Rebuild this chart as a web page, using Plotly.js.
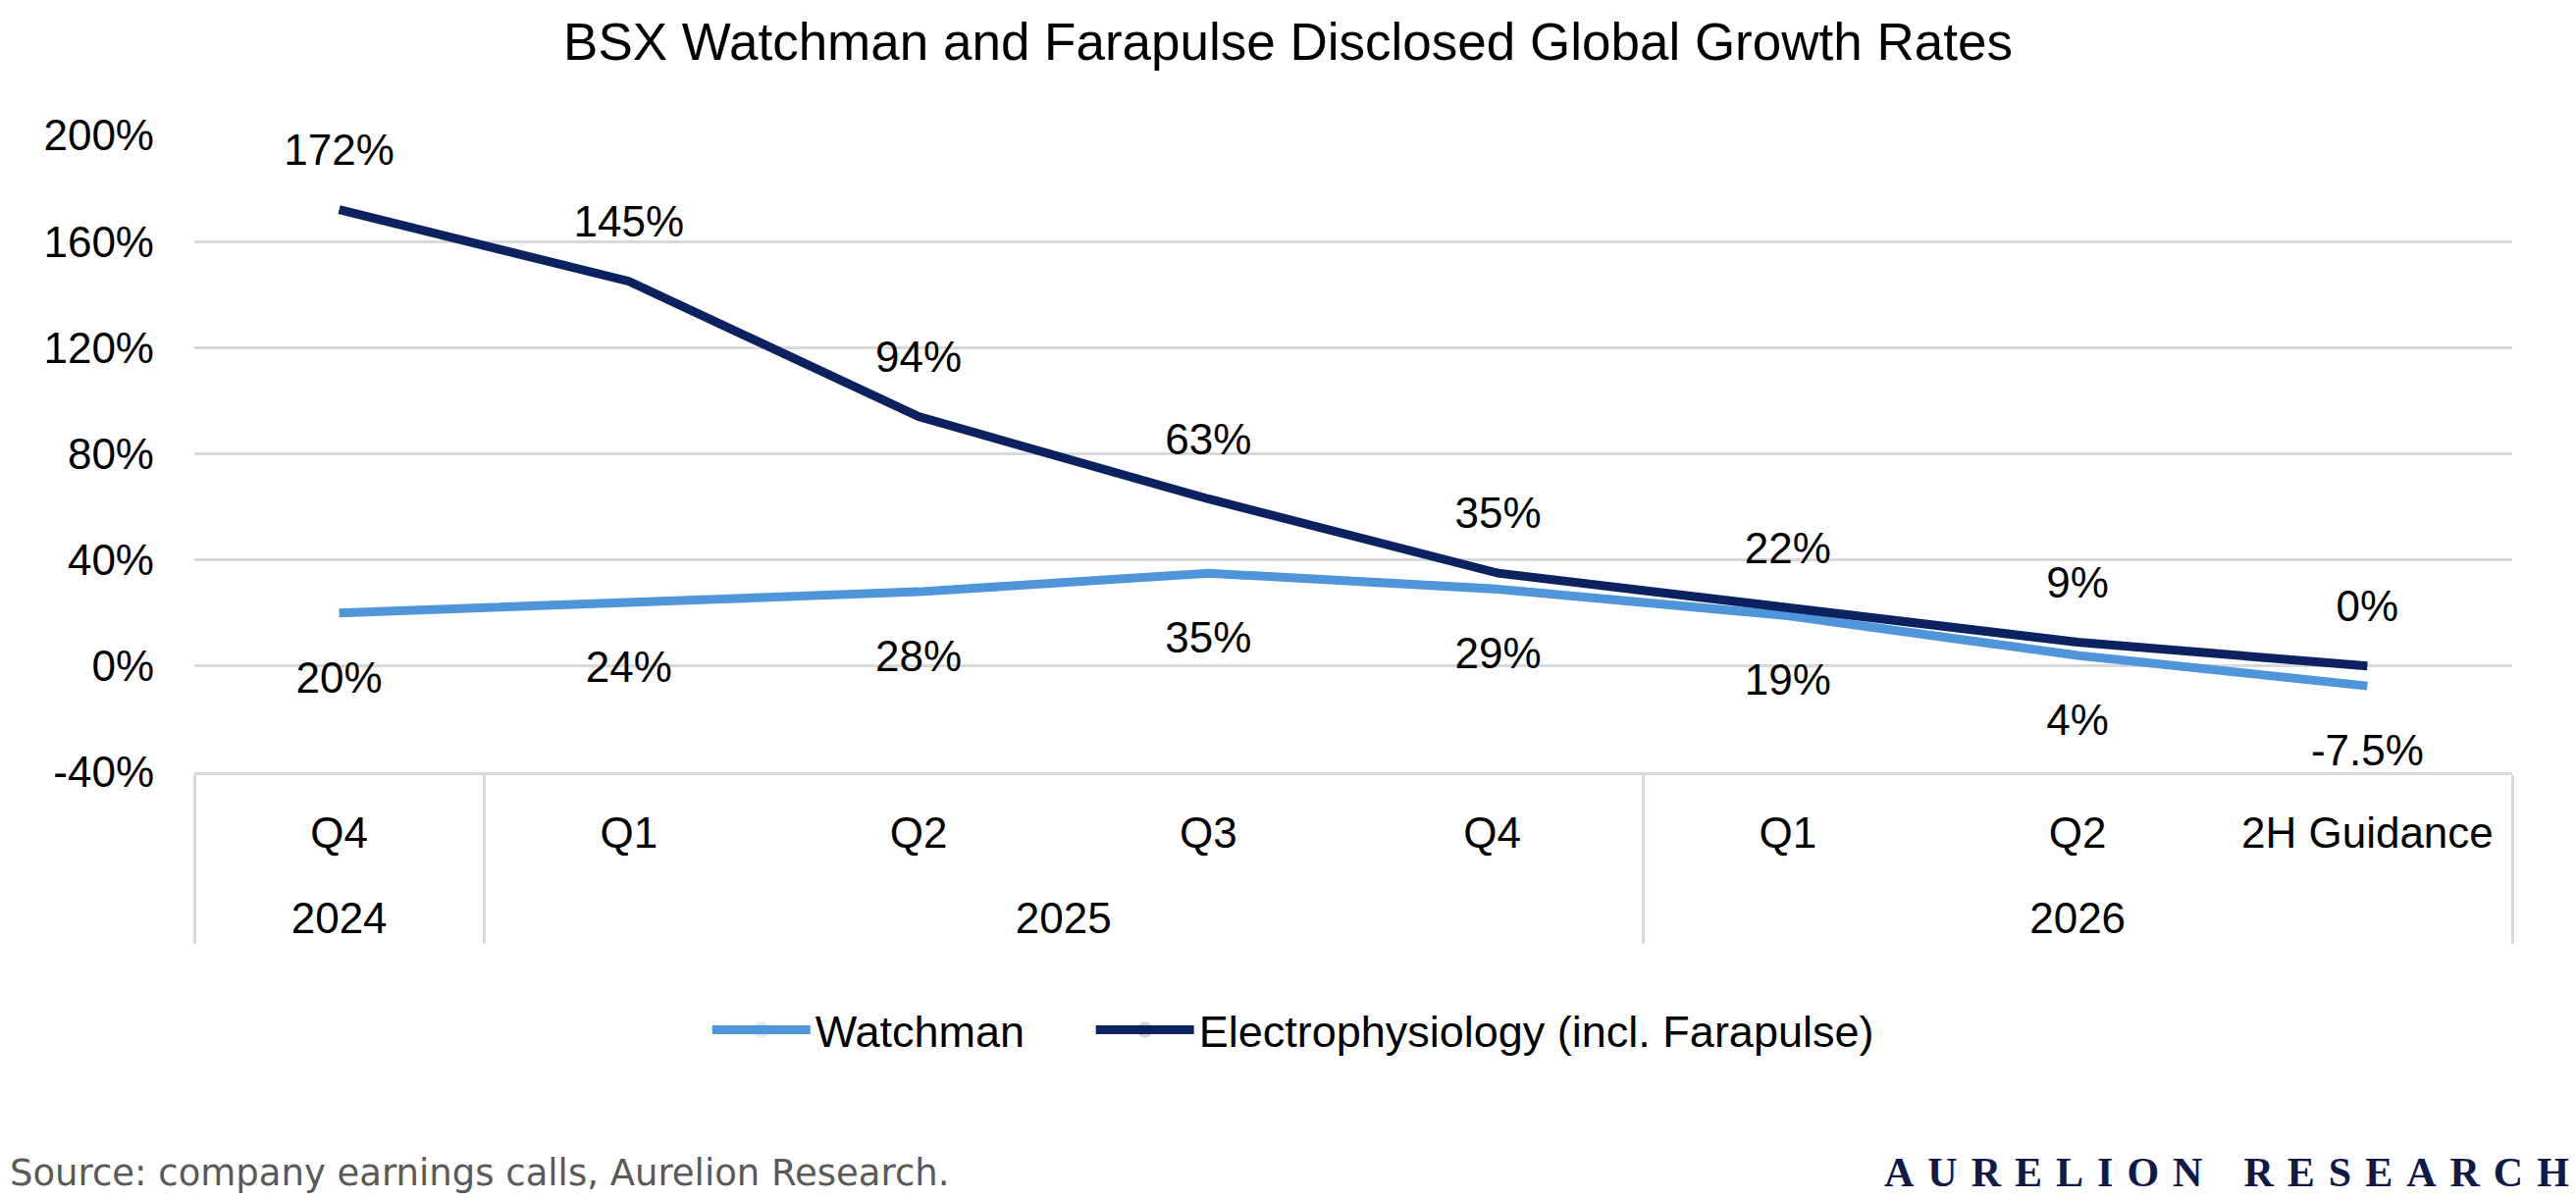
<!DOCTYPE html>
<html>
<head>
<meta charset="utf-8">
<script src="https://cdn.plot.ly/plotly-3.0.1.min.js"></script>
<style>
  html, body { margin: 0; padding: 0; background: #fff; }
  #chart { width: 2625px; height: 1222px; }
</style>
</head>
<body>
<div id="chart"></div>
<script>
// outer level of the x axis (years) and inner level (periods)
var years = ['2024', '2025', '2025', '2025', '2025', '2026', '2026', '2026'];
// the second Q4 carries a trailing space so plotly keeps it inside 2025 in order
var quarters = ['Q4', 'Q1', 'Q2', 'Q3', 'Q4 ', 'Q1', 'Q2', '2H Guidance'];

var watchman = [20, 24, 28, 35, 29, 19, 4, -7.5];
var electro = [172, 145, 94, 63, 35, 22, 9, 0];

var yTicks = [-40, 0, 40, 80, 120, 160, 200];

function pctLabel(v) {
    return v + '%';
}

function drawChart() {
    var LOC = document.getElementById('chart');
    var font = 'Liberation Sans, Arial, sans-serif';

    // blank second line: makes the inner label row taller so the year row sits lower
    var innerLabels = quarters.map(function(q) { return q + '<br>\u00a0'; });

    var trace1 = {
        x: [years, innerLabels],
        y: watchman,
        // trailing nbsp widen the gap to the next legend entry
        name: 'Watchman\u00a0\u00a0\u00a0\u00a0\u00a0',
        type: 'scatter',
        mode: 'lines+markers+text',
        line: {color: '#4F95D9', width: 9},
        marker: {size: 75, opacity: 0},
        text: watchman.map(pctLabel),
        textposition: 'bottom center',
        textfont: {family: font, size: 44, color: '#000'},
        cliponaxis: false,
        hoverinfo: 'skip'
    };

    var trace2 = {
        x: [years, innerLabels],
        y: electro,
        name: 'Electrophysiology (incl. Farapulse)',
        type: 'scatter',
        mode: 'lines+markers+text',
        line: {color: '#0C2260', width: 9},
        marker: {size: 54, opacity: 0},
        text: electro.map(pctLabel),
        textposition: 'top center',
        textfont: {family: font, size: 44, color: '#000'},
        cliponaxis: false,
        hoverinfo: 'skip'
    };

    var data = [trace1, trace2];

    var sp = '\u2004';
    var brand = 'AURELION'.split('').join(sp) + sp + sp + sp + 'RESEARCH'.split('').join(sp);

    var layout = {
        width: 2625,
        height: 1222,
        margin: {l: 198, r: 65, t: 138, b: 435, autoexpand: false},
        paper_bgcolor: '#fff',
        plot_bgcolor: '#fff',
        font: {family: font, size: 44, color: '#000'},
        title: {
            text: 'BSX Watchman and Farapulse Disclosed Global Growth Rates',
            font: {family: font, size: 53, color: '#000'},
            x: 0.5,
            xanchor: 'center',
            y: 1 - 42 / 1222,
            yanchor: 'middle',
            yref: 'container'
        },
        xaxis: {
            type: 'multicategory',
            range: [-0.5, 7.5],
            showgrid: false,
            zeroline: false,
            showline: true,
            linecolor: '#D9D9D9',
            linewidth: 3,
            ticks: '',
            showdividers: true,
            dividercolor: '#D9D9D9',
            dividerwidth: 3,
            ticklabelstandoff: 21,
            tickfont: {family: font, size: 44, color: '#000'}
        },
        yaxis: {
            range: [-40, 200],
            tickvals: yTicks,
            ticktext: yTicks.map(pctLabel),
            showgrid: true,
            gridcolor: '#D9D9D9',
            gridwidth: 3,
            zeroline: false,
            showline: false,
            ticks: '',
            ticklabelstandoff: 40,
            tickfont: {family: font, size: 44, color: '#000'}
        },
        showlegend: true,
        legend: {
            orientation: 'h',
            xref: 'container',
            x: 0.502,
            xanchor: 'center',
            y: -0.405,
            yanchor: 'middle',
            font: {family: font, size: 45, color: '#000'},
            itemwidth: 100
        },
        annotations: [
            {
                text: 'Source: company earnings calls, Aurelion Research.',
                xref: 'paper', yref: 'paper',
                x: -0.0804, y: -0.6287,
                xanchor: 'left', yanchor: 'middle',
                showarrow: false,
                font: {family: 'DejaVu Sans, sans-serif', size: 37, color: '#595959'}
            },
            {
                text: '<b>' + brand + '</b>',
                xref: 'paper', yref: 'paper',
                x: 1.0254, y: -0.6287,
                xanchor: 'right', yanchor: 'middle',
                showarrow: false,
                font: {family: 'Liberation Serif, serif', size: 42, color: '#0D1A4A'}
            }
        ]
    };

    Plotly.newPlot(LOC, data, layout, {staticPlot: true});
}

drawChart();
</script>
</body>
</html>
